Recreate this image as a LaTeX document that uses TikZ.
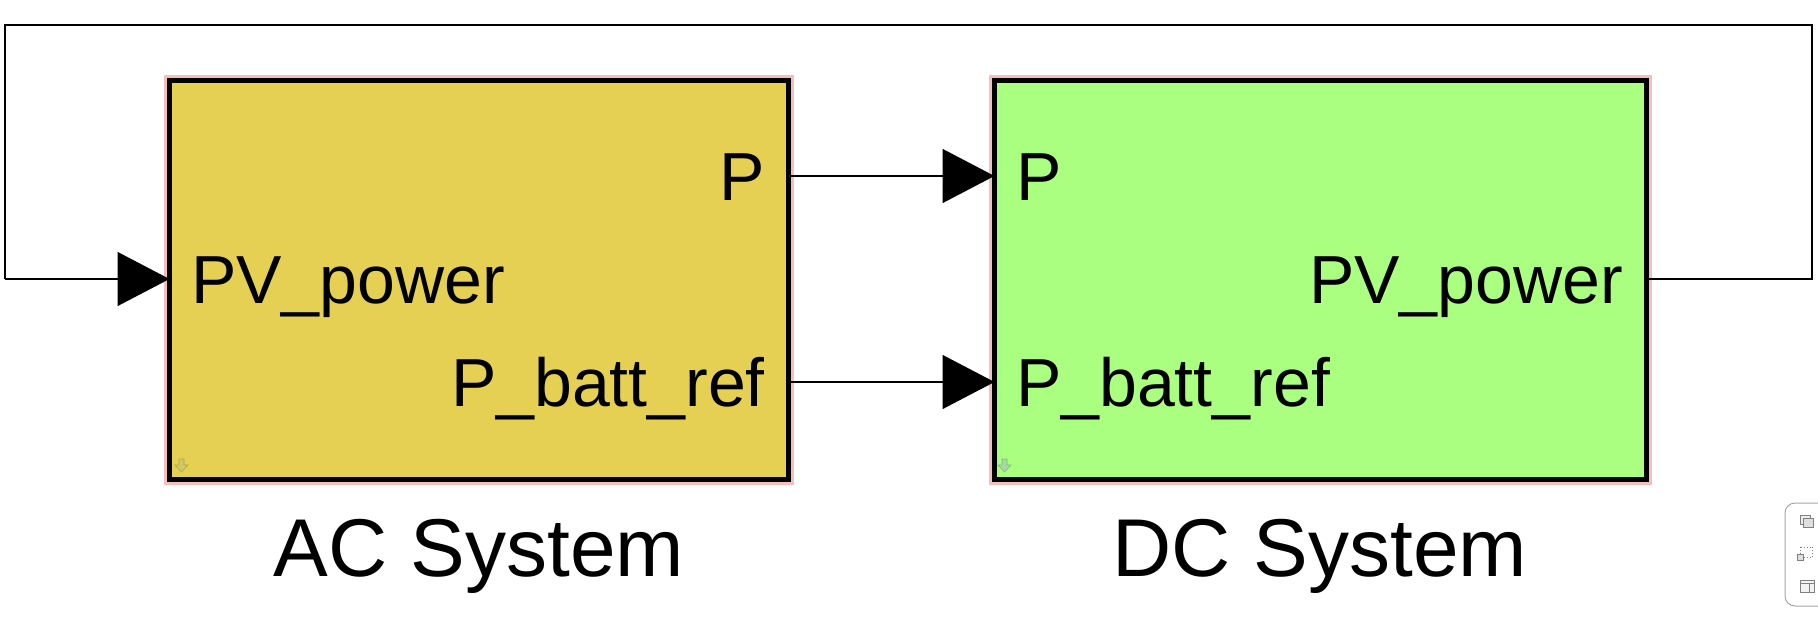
\documentclass[tikz,border=0pt]{standalone}
\usepackage{fontspec}
\setmainfont{Liberation Sans}
\usetikzlibrary{arrows.meta}
\definecolor{acfill}{RGB}{230,208,83}
\definecolor{dcfill}{RGB}{170,255,128}
\definecolor{glow}{RGB}{248,190,190}
\tikzset{
  blockbox/.style={draw=black,line width=5.5pt,inner sep=0pt,outer sep=0pt},
  porttext/.style={inner sep=0pt,font=\fontsize{68}{80}\selectfont},
  nametext/.style={inner sep=0pt,anchor=base,font=\fontsize{82}{96}\selectfont},
  sig/.style={line width=1.4pt,-{Triangle[length=52pt,width=54pt]}},
  wire/.style={line width=1.4pt}
}
\begin{document}
\begin{tikzpicture}[x=1pt,y=-1pt]
\useasboundingbox (0,0) rectangle (1818,616);
% glows
\draw[glow,line width=4pt] (166,77) rectangle (792,483);
\draw[glow,line width=4pt] (991,77) rectangle (1650,483);
% blocks
\node[blockbox,fill=acfill,minimum width=619pt,minimum height=399pt] (AC) at (479,280) {};
\node[blockbox,fill=dcfill,minimum width=652pt,minimum height=399pt] (DC) at (1320.5,280) {};
% port labels
\node[porttext,anchor=base east] (acP) at (765,200) {P};
\node[porttext,anchor=base west] (acPV) at (191,303) {PV\_power};
\node[porttext,anchor=base east] (acPB) at (765,406) {P\_batt\_ref};
\node[porttext,anchor=base west] (dcP) at (1016,200) {P};
\node[porttext,anchor=base east] (dcPV) at (1623,303) {PV\_power};
\node[porttext,anchor=base west] (dcPB) at (1016,406) {P\_batt\_ref};
% block names
\node[nametext] (acName) at (479,576) {AC System};
\node[nametext] (dcName) at (1320,576) {DC System};
% small corner arrows
\filldraw[draw=olive!70,fill=olive!45,line width=0.6pt] (179,459) -- (184,459) -- (184,465) -- (188,465) -- (181.5,472) -- (175,465) -- (179,465) -- cycle;
\filldraw[draw=green!45!black!50,fill=green!40!gray!50,line width=0.6pt] (1002,459) -- (1007,459) -- (1007,465) -- (1011,465) -- (1004.5,472) -- (998,465) -- (1002,465) -- cycle;
% connectors
\coordinate (fbR) at (1812,279);
\coordinate (fbRT) at (1812,25);
\coordinate (fbLT) at (5,25);
\coordinate (fbL) at (5,279);
\draw[sig] (AC.east |- 0,176) -- (DC.west |- 0,176);
\draw[sig] (AC.east |- 0,382) -- (DC.west |- 0,382);
\draw[wire] (DC.east |- fbR) -- (fbR) -- (fbRT) -- (fbLT) -- (fbL);
\draw[sig] (fbL) -- (AC.west |- fbL);
% UI widget at lower right
\draw[gray!70,line width=1pt,rounded corners=10pt] (1826,503) -- (1785,503) -- (1785,606) -- (1826,606);
\draw[gray,line width=1pt,fill=gray!15] (1800,515) rectangle (1810,524);
\draw[gray,line width=1pt,fill=gray!25] (1803,518) rectangle (1813,527);
\draw[gray,line width=0.8pt,dotted] (1800,547) rectangle (1812,557);
\draw[gray,line width=0.8pt,fill=gray!25] (1797,554) rectangle (1803,560);
\draw[gray,line width=1pt,fill=gray!10] (1800,580) rectangle (1814,592);
\draw[gray,line width=1pt] (1800,583) -- (1814,583);
\draw[gray,line width=1pt] (1809,583) -- (1809,592);
\end{tikzpicture}
\end{document}
